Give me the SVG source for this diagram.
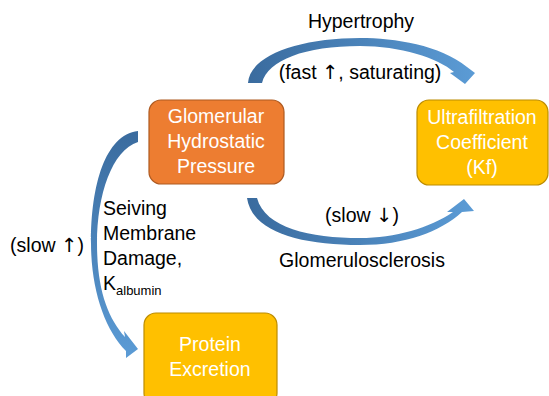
<svg xmlns="http://www.w3.org/2000/svg" width="549" height="396" viewBox="0 0 549 396">
<defs>
<style>
text{font-family:"Liberation Sans",Arial,sans-serif;font-size:19.5px;fill:#000}
.w{fill:#fff;text-anchor:middle}
.c{text-anchor:middle}
.ar{font-family:"DejaVu Sans",sans-serif}
.orange{fill:#ED7D31;stroke:#AE5A21;stroke-width:1.2}
.gold{fill:#FFC000;stroke:#BC8C00;stroke-width:1.2}
</style>
<linearGradient id="gTop" gradientUnits="userSpaceOnUse" x1="248" y1="60" x2="474" y2="60">
<stop offset="0" stop-color="#3A6B9E"/><stop offset="1" stop-color="#5B9BD5"/>
</linearGradient>
<linearGradient id="gBot" gradientUnits="userSpaceOnUse" x1="247" y1="220" x2="472" y2="220">
<stop offset="0" stop-color="#3A6B9E"/><stop offset="1" stop-color="#5B9BD5"/>
</linearGradient>
<linearGradient id="gLeft" gradientUnits="userSpaceOnUse" x1="110" y1="131" x2="110" y2="356">
<stop offset="0" stop-color="#3A6B9E"/><stop offset="1" stop-color="#5B9BD5"/>
</linearGradient>
</defs>
<g id="connectors">
<path fill="url(#gTop)" d="M248,83 C250,55 300,38 360,38 C395,38 440,45 467,67 L475,73 L465,84 L450,73 L454,72 C438,58 400,46 360,46 C305,46 268,60 262,83 Z"/>
<path fill="url(#gBot)" d="M257,198 C265,228 310,238 360,238 C395,238 430,228 453,212 L447,212 L464,199 L474,211 L462,212 C440,232 405,245 360,245 C300,245 252,232 247,198 Z"/>
<path fill="url(#gLeft)" d="M138,131 L138,142 C112,150 97,195 97,243 C97,290 108,318 125,337 L124,331 L138,349 L126,358 L126,351 C105,330 91,290 91,243 C91,185 105,135 138,131 Z"/>
<text class="c" x="361" y="28">Hypertrophy</text>
<text class="c" x="360" y="79">(fast <tspan class="ar">↑</tspan>, saturating)</text>
<text class="c" x="362" y="222">(slow <tspan class="ar">↓</tspan>)</text>
<text class="c" x="362" y="267">Glomerulosclerosis</text>
<text class="c" x="47" y="252">(slow <tspan class="ar">↑</tspan>)</text>
<text x="103" y="215">Seiving</text>
<text x="103" y="240">Membrane</text>
<text x="103" y="265">Damage,</text>
<text x="103" y="290">K<tspan font-size="13" dy="5">albumin</tspan></text>
</g>
<g id="glomerular">
<rect class="orange" x="149" y="100" width="135" height="84" rx="12"/>
<text class="w" x="216" y="123">Glomerular</text>
<text class="w" x="216" y="148">Hydrostatic</text>
<text class="w" x="216" y="173">Pressure</text>
</g>
<g id="ultrafiltration">
<rect class="gold" x="417" y="100" width="131" height="85" rx="12"/>
<text class="w" x="482" y="124">Ultrafiltration</text>
<text class="w" x="482" y="149">Coefficient</text>
<text class="w" x="482" y="174">(Kf)</text>
</g>
<g id="protein">
<rect class="gold" x="144" y="313" width="133" height="92" rx="12"/>
<text class="w" x="210" y="351">Protein</text>
<text class="w" x="210" y="376">Excretion</text>
</g>
</svg>
